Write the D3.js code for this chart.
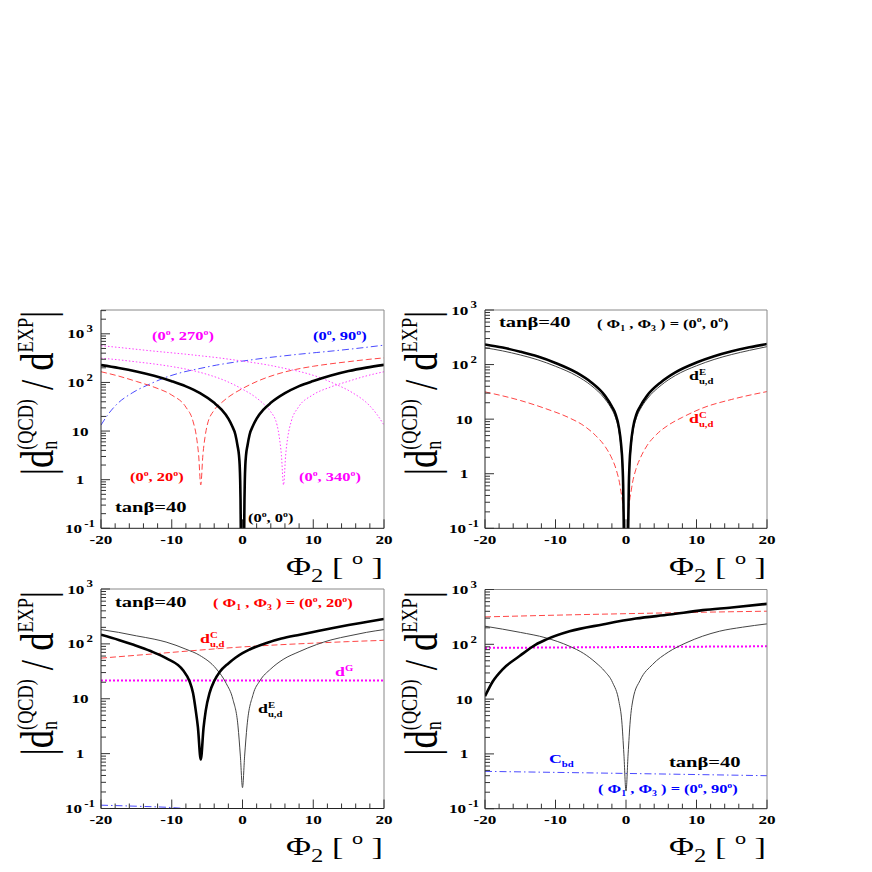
<!DOCTYPE html>
<html><head><meta charset="utf-8">
<script src="https://cdn.jsdelivr.net/npm/d3@7"></script>
<style>
html,body{margin:0;padding:0;background:#fff;}
svg text{white-space:pre;}
</style></head>
<body>
<svg id="c" width="872" height="872"></svg>
<script>
// ===================== DATA =====================
const xTicks = [-20, -10, 0, 10, 20];
const xTickLabels = ["-20", "-10", "0", "10", "20"];
const yDecades = [0.1, 1, 10, 100, 1000];
const yTickBase = ["10", "1", "10", "10", "10"];
const yTickExp = ["-1", "", "", "2", "3"];

// Panel A : tanβ=40, various (Φ1,Φ3)
const A_phi_00 = [-20,-17.5,-15,-12.5,-10,-8,-6,-4,-3,-2,-1.5,-1,-0.7,-0.5,-0.4,-0.33,-0.28,-0.24,-0.2,0,0.2,0.24,0.28,0.33,0.4,0.5,0.7,1,1.5,2,3,4,6,8,10,12.5,15,17.5,20];
const A_val_00 = [227,198,168,137,106,83,60,38,28,18,13,8.4,5,3.2,2,1,0.4,0.1,0.04,0.01,0.04,0.1,0.4,1,2,3.2,5,8.4,13,18,28,38,60,84,107,139,172,202,230];
const A_phi_20 = [-20,-17.5,-15,-12.5,-10,-8,-7,-6.5,-6.2,-5.9,-5.6,-5.3,-5,-4,-3,-2,0,2.5,5,7.5,10,12.5,15,17.5,20];
const A_val_20 = [166,135,105,80,55,31,16,7.5,3.2,0.78,3.2,7.5,13,27,38,50,75,112,150,185,215,242,268,295,320];
const A_phi_340 = [-20,-17.5,-15,-12.5,-10,-7.6,-5.1,-2.6,-0.1,1.9,2.9,3.9,4.9,5.2,5.5,5.8,6.1,6.4,6.9,7.9,9.9,12.4,14.9,17.4,20];
const A_val_340 = [315,292,265,240,212,183,148,111,74,49,37,26,13,7.5,3.2,0.78,3.2,7.5,16,31,55,80,105,135,166];
const A_phi_90 = [-20,-19,-17.9,-15.5,-13,-10.8,-8.4,-6,-3.7,-1.35,1,3.4,5.7,8.1,10.5,12.8,15.2,17.5,20];
const A_val_90 = [13.3,22,34,62,94,128,163,194,227,258,288,321,350,382,413,445,484,528,585];
const A_phi_270 = [-20,-17.5,-15.2,-12.8,-10.5,-8.1,-5.7,-3.4,-1,1.35,3.7,6,8.4,10.8,13,15.5,17.9,19,20];
const A_val_270 = [570,525,484,445,413,382,350,321,288,258,227,194,163,128,94,62,34,22,13.3];

// Panel B : (Φ1,Φ3) = (0°,0°)
const B_phi = [-20,-17.5,-15,-12.5,-10,-7,-5,-3,-2,-1.5,-1,-0.7,-0.5,-0.4,-0.33,-0.28,0,0.28,0.33,0.4,0.5,0.7,1,1.5,2,3,5,7,10,12.5,15,17.5,20];
const B_val_total = [234,205,172,140,107,71,48,27,17,12.5,7,3.5,1.5,0.6,0.15,0.05,0.01,0.05,0.15,0.6,1.5,3.5,7,12.5,17,27,48,72,109,142,175,207,238];
const B_val_E = [203,178,150,122,93,62,42,23.5,15,10.8,6,2.9,1.2,0.45,0.1,0.03,0.01,0.03,0.1,0.45,1.2,2.9,6,10.8,15,23.5,42,63,95,124,153,182,213];
const B_phi_C = [-20,-15,-11.35,-8,-6,-4.3,-3,-2,-1.4,-0.8,-0.3,0,0.3,0.8,1.4,2,3,4.3,6.15,8,10.87,15,20];
const B_val_C = [31.6,22,15.5,10.5,7.6,5,3.2,1.9,1.2,0.55,0.15,0.02,0.15,0.55,1.2,1.9,3.3,5.2,8,10.8,16,23,32];

// Panel C : (Φ1,Φ3) = (0°,20°)
const C_phi_total = [-20,-17.5,-15.5,-13,-10.8,-8.4,-7.5,-7,-6.6,-6.3,-5.9,-5.5,-5.2,-4.65,-4,-3.2,-2,-1,0,1,3.4,5.5,8.1,10,12.8,15,17.5,20];
const C_val_total = [147,118,97,74,55,33,21,12.8,6,3,0.78,3,6,12.8,21,31,44,56,68,79,104,125,147,165,195,220,250,284];
const C_phi_E = [-20,-17.5,-15,-12.5,-10.8,-8,-6.07,-3.7,-2.3,-1.35,-0.64,-0.3,0,0.3,0.64,1.5,2.43,4,5.74,8,10.46,12.5,15.2,17.5,20];
const C_val_E = [182,162,140,122,108,80,62,35,19,9.7,3.2,0.9,0.24,0.9,3.2,12,21,35,52,72,97,118,141,162,182];
const C_phi_C = [-20,-15,-10,-5,0,5,10,15,20];
const C_val_C = [55,62,70,79,88,96,103,110,116];
const C_phi_G = [-20,-10,0,10,20];
const C_val_G = [21.4,21.4,21.4,21.4,21.4];
const C_phi_bd = [-20,-15,-10,-7];
const C_val_bd = [0.115,0.11,0.104,0.097];

// Panel D : (Φ1,Φ3) = (0°,90°)
const D_phi_total = [-20,-18.9,-17.5,-15.1,-12.8,-11.35,-8,-3.3,1.4,6.2,10.9,15,20];
const D_val_total = [11.3,21,35,61,99,122,173,230,295,349,420,470,547];
const D_phi_E = [-20,-15,-11.35,-8,-6,-4.26,-3,-1.9,-1,-0.6,-0.3,0,0.3,0.6,1,2,3.78,6,8.5,13.24,16.5,20];
const D_val_E = [214,165,131,92,68,46,32,20,9,4,1,0.21,1,4,10,22,43,72,106,173,205,236];
const D_phi_flat = [-20,-10,0,10,20];
const D_val_C = [316,340,362,383,402];
const D_val_G = [86,87.5,89,90.5,92];
const D_val_bd = [0.48,0.46,0.44,0.42,0.40];

// ===================== DRAWING =====================
const FONT = "'Liberation Serif','Times New Roman',serif";
const SX = 1.37;
const RED = "#ff0000", MAG = "#ff00ff", BLUE = "#0000ff";
const RED_L = "#ff4545", MAG_L = "#ff40ff", BLUE_L = "#4a4aff";
const svg = d3.select("#c");

function rich(parent, tf, parts, o) {
  const g = parent.append("g").attr("transform", tf);
  const inner = g.append("g");
  let cx = 0, lastStart = 0;
  for (const p of parts) {
    const s = p.s || 1;
    const x0 = p.stack ? lastStart : cx;
    const t = inner.append("text")
      .attr("x", x0).attr("y", (p.dy || 0) * o.size)
      .attr("font-family", FONT).attr("font-size", o.size * s)
      .attr("font-weight", o.weight || "bold")
      .attr("fill", o.color || "#000")
      .text(p.t);
    const w = t.node().getComputedTextLength();
    if (p.stack) cx = Math.max(cx, x0 + w);
    else { lastStart = x0; cx = x0 + w; }
  }
  const off = o.anchor === "middle" ? -cx / 2 : o.anchor === "end" ? -cx : 0;
  inner.attr("transform", `translate(${off},0)`);
  return g;
}
const H = (x, y) => `translate(${x},${y}) scale(${SX},1)`;
const N = t => ({ t });
const sup = (t, s = 0.6, dy = -0.42) => ({ t, s, dy });
const sub = (t, s = 0.6, dy = 0.28) => ({ t, s, dy });
const deg = (a, b) => [N("(" + a), sup("o"), N(", " + b), sup("o"), N(")")];
const phiPair = (a, b) => [N("( Φ"), sub("1"), N(" , Φ"), sub("3"), N(" ) = (" + a), sup("o"), N(", " + b), sup("o"), N(")")];
const dE = [N("d"), sup("E"), { t: "u,d", s: 0.6, dy: 0.3, stack: true }];
const dC = [N("d"), sup("C"), { t: "u,d", s: 0.6, dy: 0.3, stack: true }];
const dG = [N("d"), sup("G")];
const Cbd = [N("C"), sub("bd")];
const TANB = [N("tanβ=40")];

const panels = [
  { x0: 101, x1: 384, y0: 310, y1: 528.3, ymax: 3090,
    curves: [
      { x: A_phi_90, y: A_val_90, color: BLUE_L, w: 1, dash: "7,3,1.5,3" },
      { x: A_phi_270, y: A_val_270, color: MAG_L, w: 1, dash: "1.5,2" },
      { x: A_phi_340, y: A_val_340, color: MAG_L, w: 1, dash: "1.5,2" },
      { x: A_phi_20, y: A_val_20, color: RED_L, w: 1, dash: "6,3" },
      { x: A_phi_00, y: A_val_00, color: "#000", w: 2.6 } ],
    labels: [
      { x: 152, y: 340, parts: deg("0", "270"), color: MAG, size: 12 },
      { x: 313, y: 340, parts: deg("0", "90"), color: BLUE, size: 12 },
      { x: 130, y: 481, parts: deg("0", "20"), color: RED, size: 12 },
      { x: 299, y: 481, parts: deg("0", "340"), color: MAG, size: 12 },
      { x: 115, y: 512, parts: TANB, color: "#000", size: 15 },
      { x: 248, y: 522, parts: deg("0", "0"), color: "#000", size: 12 } ] },
  { x0: 485, x1: 767, y0: 310, y1: 528.3, ymax: 1000,
    curves: [
      { x: B_phi_C, y: B_val_C, color: RED_L, w: 1, dash: "6,3" },
      { x: B_phi, y: B_val_E, color: "#444", w: 1 },
      { x: B_phi, y: B_val_total, color: "#000", w: 2.6 } ],
    labels: [
      { x: 499, y: 327, parts: TANB, color: "#000", size: 15 },
      { x: 597, y: 327.5, parts: phiPair("0", "0"), color: "#000", size: 12 },
      { x: 689, y: 380, parts: dE, color: "#000", size: 13 },
      { x: 689, y: 423, parts: dC, color: RED, size: 13 } ] },
  { x0: 101, x1: 384, y0: 589, y1: 808.5, ymax: 1000,
    curves: [
      { x: C_phi_bd, y: C_val_bd, color: BLUE_L, w: 1, dash: "7,3,1.5,3" },
      { x: C_phi_G, y: C_val_G, color: MAG, w: 2, dash: "2,2" },
      { x: C_phi_C, y: C_val_C, color: RED_L, w: 1, dash: "6,3" },
      { x: C_phi_E, y: C_val_E, color: "#444", w: 1 },
      { x: C_phi_total, y: C_val_total, color: "#000", w: 2.6 } ],
    labels: [
      { x: 115, y: 607, parts: TANB, color: "#000", size: 15 },
      { x: 213, y: 607, parts: phiPair("0", "20"), color: RED, size: 12 },
      { x: 200, y: 643, parts: dC, color: RED, size: 13 },
      { x: 335, y: 676, parts: dG, color: MAG, size: 13 },
      { x: 258, y: 713, parts: dE, color: "#000", size: 13 } ] },
  { x0: 485, x1: 767, y0: 589.5, y1: 808.7, ymax: 1000,
    curves: [
      { x: D_phi_flat, y: D_val_bd, color: BLUE_L, w: 1, dash: "7,3,1.5,3" },
      { x: D_phi_flat, y: D_val_G, color: MAG, w: 2, dash: "2,2" },
      { x: D_phi_flat, y: D_val_C, color: RED_L, w: 1, dash: "6,3" },
      { x: D_phi_E, y: D_val_E, color: "#444", w: 1 },
      { x: D_phi_total, y: D_val_total, color: "#000", w: 2.6 } ],
    labels: [
      { x: 549, y: 763, parts: Cbd, color: BLUE, size: 13 },
      { x: 669, y: 767, parts: TANB, color: "#000", size: 15 },
      { x: 598, y: 793, parts: phiPair("0", "90"), color: BLUE, size: 12 } ] }
];

panels.forEach((P, i) => {
  const g = svg.append("g");
  const xs = d3.scaleLinear().domain([-20, 20]).range([P.x0, P.x1]);
  const ys = d3.scaleLog().domain([0.1, P.ymax]).range([P.y1, P.y0]);
  const clipId = "clip" + i;
  svg.append("clipPath").attr("id", clipId).append("rect")
    .attr("x", P.x0).attr("y", P.y0).attr("width", P.x1 - P.x0).attr("height", P.y1 - P.y0);

  // curves
  const cg = g.append("g").attr("clip-path", `url(#${clipId})`);
  P.curves.forEach(c => {
    const pts = c.x.map((v, k) => [v, c.y[k]]);
    const line = d3.line().x(d => xs(d[0])).y(d => ys(d[1])).curve(d3.curveMonotoneX);
    cg.append("path").attr("d", line(pts)).attr("fill", "none")
      .attr("stroke", c.color).attr("stroke-width", c.w)
      .attr("stroke-dasharray", c.dash || null);
  });

  // frame
  g.append("line").attr("x1", P.x0).attr("x2", P.x1).attr("y1", P.y0).attr("y2", P.y0).attr("stroke", "#888").attr("stroke-width", 1);
  g.append("line").attr("x1", P.x1).attr("x2", P.x1).attr("y1", P.y0).attr("y2", P.y1).attr("stroke", "#888").attr("stroke-width", 1);
  g.append("line").attr("x1", P.x0).attr("x2", P.x0).attr("y1", P.y0).attr("y2", P.y1).attr("stroke", "#222").attr("stroke-width", 1);
  g.append("line").attr("x1", P.x0).attr("x2", P.x1).attr("y1", P.y1).attr("y2", P.y1).attr("stroke", "#222").attr("stroke-width", 1);

  // x ticks
  d3.range(-20, 20.01, 2).forEach(v => {
    const major = Math.abs(v % 10) < 1e-9;
    g.append("line").attr("x1", xs(v)).attr("x2", xs(v))
      .attr("y1", P.y1).attr("y2", P.y1 - (major ? 9 : 5))
      .attr("stroke", "#333").attr("stroke-width", 1);
  });
  xTicks.forEach((v, k) => {
    rich(g, H(xs(v), P.y1 + 15.5), [N(xTickLabels[k])], { size: 12.5, anchor: "middle" });
  });
  // y ticks
  yDecades.forEach(d => {
    for (let m = 1; m <= 9; m++) {
      const v = d * m;
      if (v > P.ymax * 1.0001) break;
      g.append("line").attr("x1", P.x0).attr("x2", P.x0 + (m === 1 ? 9 : 5))
        .attr("y1", ys(v)).attr("y2", ys(v)).attr("stroke", "#333").attr("stroke-width", 1);
    }
  });
  yDecades.forEach((d, k) => {
    if (d > P.ymax * 1.0001) return;
    const parts = yTickExp[k] === "" ? [N(yTickBase[k])]
      : [N(yTickBase[k]), { t: " ", s: 0.5 }, sup(yTickExp[k], 0.75, -0.5)];
    rich(g, H(P.x0 - 21, ys(d) + 4.5), parts, { size: 12.5, anchor: "middle" });
  });

  // axis titles
  rich(g, H(P.x1 - 1, P.y1 + 46.5),
    [N("Φ"), sub("2", 0.72, 0.28), N(" [ "), sup("o", 0.65, -0.45), N(" ]")],
    { size: 25, weight: "normal", anchor: "end" });
  const tx = P.x0 - 48, ty = P.y1 - 53;
  rich(g, `translate(${tx},${ty}) rotate(-90) scale(1,1.3)`,
    [N("|"), N("d"), { t: "n", s: 0.5, dy: 0.08 }, { t: "(QCD)", s: 0.5, dy: -0.43, stack: true },
     N(" / d"), sup("EXP", 0.5, -0.43), N("|")],
    { size: 36.5, weight: "normal", anchor: "start" });

  // annotations
  P.labels.forEach(L => {
    rich(g, H(L.x, L.y), L.parts, { size: L.size, color: L.color, anchor: "start" });
  });
});
</script>
</body></html>
